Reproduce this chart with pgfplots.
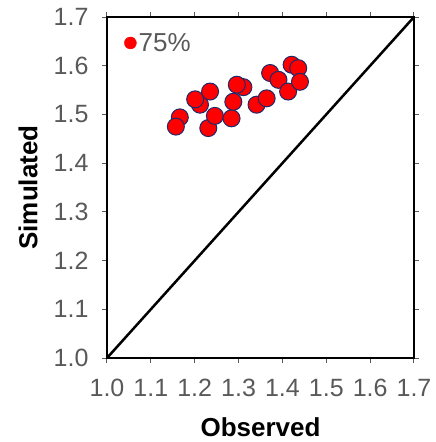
\documentclass[border=0pt]{standalone}
\usepackage{pgfplots}
\pgfplotsset{compat=1.18}
\usepackage{fontspec}
\setmainfont{Liberation Sans}
\definecolor{tickgray}{HTML}{595959}
\definecolor{edgeblue}{HTML}{1F2A6B}
\begin{document}
\begin{tikzpicture}
\begin{axis}[
  scale only axis, width=307pt, height=341pt,
  xmin=1, xmax=1.7, ymin=1, ymax=1.7,
  xtick={1.0,1.1,1.2,1.3,1.4,1.5,1.6,1.7},
  ytick={1.0,1.1,1.2,1.3,1.4,1.5,1.6,1.7},
  xticklabels={1.0,1.1,1.2,1.3,1.4,1.5,1.6,1.7},
  yticklabels={1.0,1.1,1.2,1.3,1.4,1.5,1.6,1.7},
  tick align=outside, major tick length=5pt,
  tick style={tickgray, line width=1pt},
  axis line style={black, line width=2.5pt},
  ticklabel style={font=\fontsize{25}{29}\selectfont, text=tickgray},
  xticklabel style={yshift=-13pt},
  yticklabel style={xshift=-10pt},
  xlabel={Observed}, ylabel={Simulated},
  label style={font=\fontsize{26}{30}\selectfont\bfseries},
  xlabel style={at={(axis description cs:0.5,-0.2023)}, anchor=center},
  ylabel style={at={(axis description cs:-0.2573,0.5)}, anchor=center},
  legend image code/.code={\draw[red,fill=red] (-8pt,0pt) circle (6pt);},
  legend style={draw=none, fill=none, at={(axis description cs:0,1)}, anchor=north west,
    xshift=14pt, yshift=-12pt,
    font=\fontsize{26}{30}\selectfont, text=tickgray},
]
\addplot[only marks, mark=*, mark size=8.5pt,
  mark options={fill=red, draw=edgeblue, line width=1pt}] table {
x y
1.166 1.494
1.157 1.475
1.231 1.472
1.246 1.497
1.212 1.520
1.201 1.531
1.235 1.547
1.284 1.492
1.288 1.526
1.311 1.556
1.296 1.561
1.341 1.520
1.364 1.533
1.372 1.585
1.391 1.571
1.413 1.547
1.421 1.602
1.436 1.595
1.440 1.567
};
\addlegendentry{75\%}
\addplot[black, line width=2.5pt, forget plot] coordinates {(1,1) (1.7,1.7)};
\end{axis}
\pgfresetboundingbox
\path[use as bounding box] (-107pt,-84pt) rectangle (329pt,358pt);
\end{tikzpicture}
\end{document}
